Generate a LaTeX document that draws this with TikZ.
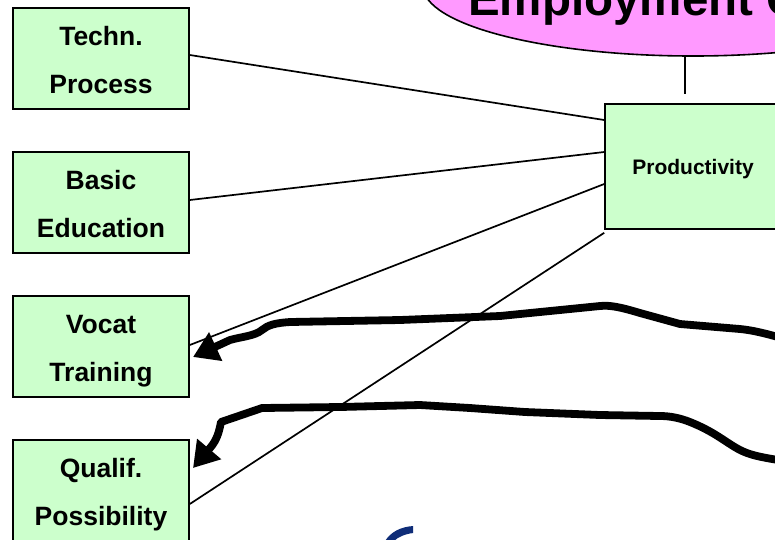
\documentclass[tikz,border=0pt]{standalone}
\usepackage{fontspec}
\setmainfont{Liberation Sans}
\usetikzlibrary{arrows.meta,shapes.geometric}
\definecolor{boxgreen}{HTML}{CCFFCC}
\definecolor{ovalpink}{HTML}{FF99FF}
\definecolor{logoblue}{HTML}{0F2D78}
\tikzset{
  factor/.style={draw=black,line width=1.6pt,fill=boxgreen,minimum width=176pt,minimum height=101pt,inner sep=0pt},
  factortext/.style={inner sep=0pt,align=center,font=\fontsize{26.5}{48}\selectfont\bfseries},
  link/.style={draw=black,line width=1.7pt},
  scrawl/.style={draw=black,line width=7.8pt,line join=round,-{Triangle[length=25pt,width=30pt]}}
}
\begin{document}
\begin{tikzpicture}[x=1pt,y=-1pt]
\useasboundingbox (0,0) rectangle (775,539);
\clip (0,0) rectangle (775,539);
\fill[white] (0,0) rectangle (775,539);
\node[draw=black,line width=1.6pt,fill=ovalpink,ellipse,inner sep=0pt,minimum width=540pt,minimum height=140pt] (oval) at (693,-14) {};
\node[anchor=base west,inner sep=0pt,font=\fontsize{47.5}{50}\selectfont\bfseries] (title) at (468,15) {Employment C};
\node[factor] (techn) at (101,58.5) {};
\node[factortext] (techntext) at (101,60.5) {Techn.\\Process};
\node[factor] (basic) at (101,202.5) {};
\node[factortext] (basictext) at (101,204.5) {Basic\\Education};
\node[factor] (vocat) at (101,346.5) {};
\node[factortext] (vocattext) at (101,351.5) {Vocat\\Training};
\node[factor] (qualif) at (101,490.5) {};
\node[factortext] (qualiftext) at (101,494.5) {Qualif.\\Possibility};
\node[draw=black,line width=1.6pt,fill=boxgreen,minimum width=190pt,minimum height=125pt,inner sep=0pt] (prod) at (700,166.5) {};
\node[inner sep=0pt,font=\fontsize{21}{25}\selectfont\bfseries] (prodtext) at (693,169) {Productivity};
\coordinate (stub) at (685,94);
\draw[link] (oval.south -| stub) -- (stub);
\draw[link] ([yshift=3.5pt]techn.east) -- ([yshift=46.5pt]prod.west);
\draw[link] ([yshift=2.5pt]basic.east) -- ([yshift=14.5pt]prod.west);
\draw[link] ([yshift=1.5pt]vocat.east) -- ([yshift=-17.5pt]prod.west);
\draw[link] ([yshift=-13.5pt]qualif.east) -- ([yshift=-3pt]prod.south west);
\draw[scrawl] (778,337) .. controls (760,332) and (750,330) .. (740,329) -- (680,324) -- (640,313) .. controls (620,307) and (610,305) .. (600,306) -- (560,310) -- (500,316) -- (400,320) -- (290,322) .. controls (275,323) and (268,325) .. (262,330) .. controls (255,336) and (240,337) .. (230,340) -- (193,357);
\draw[scrawl] (778,460) .. controls (760,457) and (750,455) .. (740,450) .. controls (725,442) and (715,432) .. (690,422) .. controls (680,418) and (670,416) .. (660,416) -- (600,415) -- (525,412) -- (470,408) -- (420,405) -- (340,407) -- (262,408) -- (221,422) .. controls (219,432) and (217,440) .. (210,448) -- (193,468);
\fill[logoblue] (385,541) .. controls (391,532) and (400,527) .. (413,526) -- (413,533) .. controls (405,534) and (398,537) .. (394,541) -- cycle;
\end{tikzpicture}
\end{document}
